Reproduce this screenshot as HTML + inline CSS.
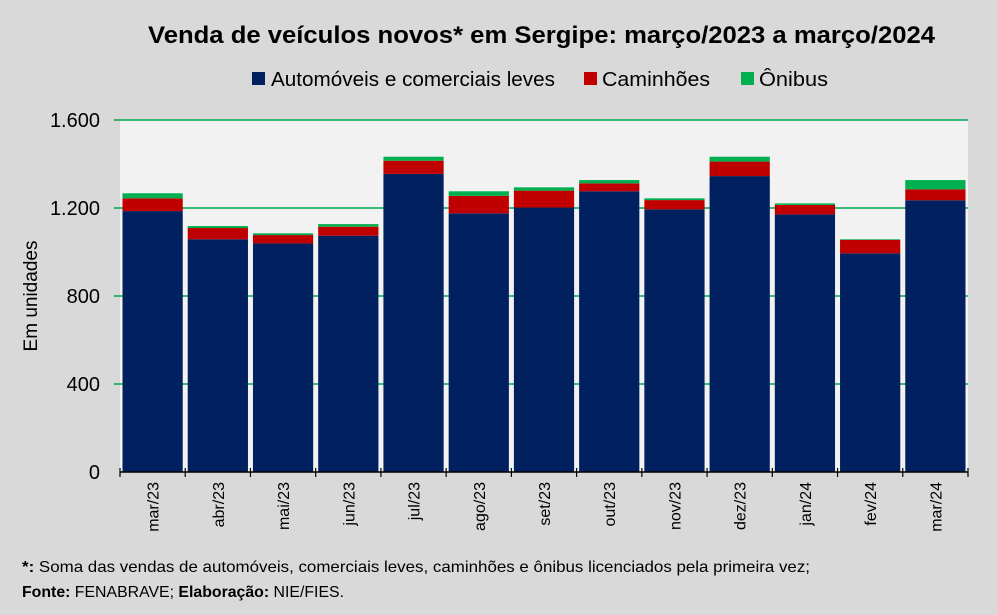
<!DOCTYPE html>
<html><head><meta charset="utf-8"><style>
body{margin:0;background:#d9d9d9;font-family:"Liberation Sans",sans-serif;}
svg{display:block}
</style></head><body>
<svg id="c" width="997" height="615" xmlns="http://www.w3.org/2000/svg">
<rect x="0" y="0" width="997" height="615" fill="#d9d9d9"/>
<rect x="120" y="120" width="848" height="352" fill="#f2f2f2"/>
<text x="148" y="43" textLength="787" lengthAdjust="spacingAndGlyphs" font-size="24" font-weight="bold" fill="#000">Venda de veículos novos* em Sergipe: março/2023 a março/2024</text>
<g font-size="20" fill="#000">
<rect x="252" y="72" width="13" height="13" fill="#002060"/>
<text x="271" y="86" textLength="284" lengthAdjust="spacingAndGlyphs">Automóveis e comerciais leves</text>
<rect x="584" y="72" width="13" height="13" fill="#c00000"/>
<text x="602" y="86" textLength="108" lengthAdjust="spacingAndGlyphs">Caminhões</text>
<rect x="741" y="72" width="13" height="13" fill="#00b050"/>
<text x="759" y="86" textLength="69" lengthAdjust="spacingAndGlyphs">Ônibus</text>
</g>
<text transform="translate(37,296) rotate(-90)" text-anchor="middle" font-size="19" fill="#000">Em unidades</text>
<g id="grid"></g><g id="bars"></g><g id="axis"></g>
<text x="22" y="572" textLength="788" lengthAdjust="spacingAndGlyphs" font-size="16" fill="#000"><tspan font-weight="bold">*:</tspan> Soma das vendas de automóveis, comerciais leves, caminhões e ônibus licenciados pela primeira vez;</text>
<text x="22" y="597" textLength="322" lengthAdjust="spacingAndGlyphs" font-size="16" fill="#000"><tspan font-weight="bold">Fonte:</tspan> FENABRAVE; <tspan font-weight="bold">Elaboração:</tspan> NIE/FIES.</text>
</svg>
<script>
const categories=["mar/23","abr/23","mai/23","jun/23","jul/23","ago/23","set/23","out/23","nov/23","dez/23","jan/24","fev/24","mar/24"];
const automoveis=[1186,1058,1039,1074,1355,1176,1202,1276,1194,1345,1171,994,1235];
const caminhoes=[58,51,38,41,60,79,77,36,42,66,43,61,50];
const onibus=[23,9,8,12,18,21,15,15,8,22,7,3,42];
const yTicks=[0,400,800,1200,1600];
const yTickLabels=["0","400","800","1.200","1.600"];
const NS="http://www.w3.org/2000/svg";
const X0=120,X1=968,Y0=472,Y1=120,YMAX=1600;
const band=(X1-X0)/categories.length;
function y(v){return Y0-(v/YMAX)*(Y0-Y1);}
function xc(i){return X0+band*(i+0.5);}
function mk(tag,attrs,parent){const e=document.createElementNS(NS,tag);for(const k in attrs)e.setAttribute(k,attrs[k]);parent.appendChild(e);return e;}
const grid=document.getElementById('grid'),bars=document.getElementById('bars'),axis=document.getElementById('axis');
yTicks.forEach((t,i)=>{
  if(t>0){const l=mk('line',{x1:X0-6,x2:X1,y1:y(t),y2:y(t),stroke:'#00a651','stroke-width':1.5},grid);
  
  }
  const tx=mk('text',{x:100,y:y(t)+7,'text-anchor':'end','font-size':20,fill:'#000'},axis);
  tx.textContent=yTickLabels[i];
  
  
});
const bw=band-5;
categories.forEach((c,i)=>{
  const x=xc(i)-bw/2;
  const a=automoveis[i],b=caminhoes[i],o=onibus[i];
  const r1=mk('rect',{x:x,y:y(a),width:bw,height:Y0-y(a),fill:'#002060'},bars);
  
  
  const r2=mk('rect',{x:x,y:y(a+b),width:bw,height:y(a)-y(a+b),fill:'#c00000'},bars);
  
  
  const r3=mk('rect',{x:x,y:y(a+b+o),width:bw,height:y(a+b)-y(a+b+o),fill:'#00b050'},bars);
  
  
  const tl=mk('text',{transform:`translate(${xc(i)+6},${Y0+10}) rotate(-90)`,'text-anchor':'end','font-size':16,fill:'#000'},axis);
  tl.textContent=c;
  
  
});
const ax=mk('line',{x1:X0,x2:X1,y1:Y0,y2:Y0,stroke:'#000','stroke-width':1.5},axis);


for(let i=0;i<=categories.length;i++){
  const t=mk('line',{x1:X0+band*i,x2:X0+band*i,y1:Y0-4,y2:Y0+5,stroke:'#000','stroke-width':1.2},axis);
  
  
}
</script>
</body></html>
